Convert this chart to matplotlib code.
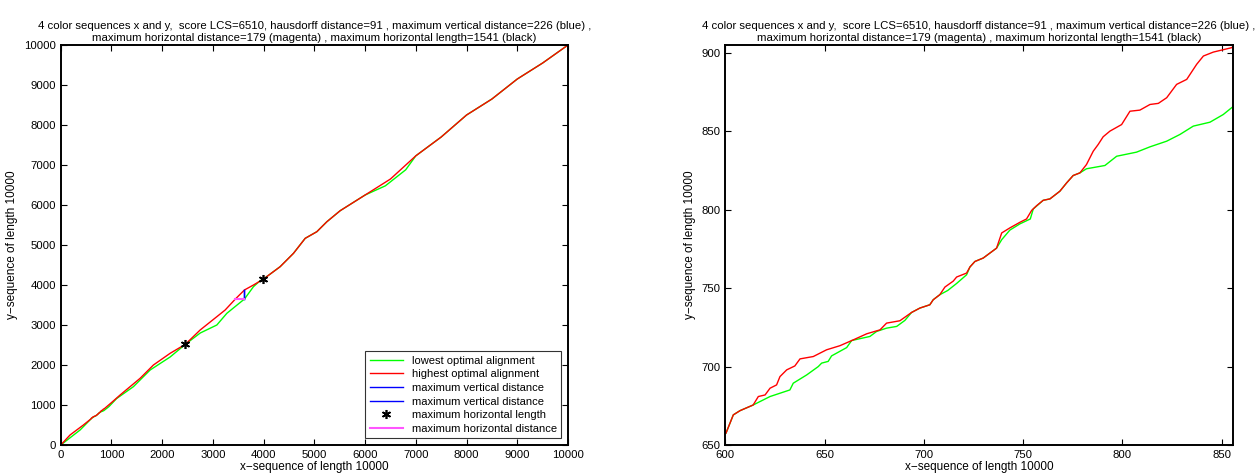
import matplotlib
matplotlib.use("Agg")
import matplotlib.pyplot as plt

plt.rcParams['font.family'] = ['Liberation Sans', 'DejaVu Sans']

# highest optimal alignment (red)
red_x = [0, 183, 446, 600.3, 604, 607.4, 614, 616.6, 620, 622.5, 625.8, 627.5, 630.9, 635, 637.6,
         644.3, 651, 657.7, 664.4, 671.2, 677.9, 681.2, 687.9, 693.8, 698, 703, 704.7, 708, 710.6,
         714.8, 716.5, 721.5, 723.2, 725.7, 729.9, 733.3, 736.6, 739.2, 743.3, 748.4, 751.7, 754.3,
         756.8, 760.1, 763.5, 768.5, 771.9, 775.2, 778.6, 781.9, 785.3, 787.8, 790.3, 793.7, 799.6,
         803.8, 808.8, 813.9, 818.1, 822.3, 827.3, 832.4, 837.4, 840.8, 845.8, 855,
         1000, 1170, 1564, 1827, 2156, 2456, 2748, 3077, 3241, 3443, 3622, 3799, 3997, 4325, 4588,
         4819, 5049, 5247, 5509, 6000, 6500, 7000, 7500, 8000, 8500, 9000, 9500, 10000]
red_y = [0, 250, 500, 657.5, 669.2, 671.9, 675.5, 680.9, 681.9, 686.2, 688.3, 693.6, 697.9, 700.4, 704.9,
         706.4, 710.7, 713.3, 717, 720.9, 723.4, 727.7, 729.2, 734.5, 737.3, 739.4, 742.6, 745.8, 750.7,
         754.5, 757.1, 759.6, 763.5, 767, 769.2, 772.4, 775.5, 785.2, 788.4, 792, 794.1, 799.6,
         802.6, 806, 806.9, 811.8, 817.1, 821.8, 823.5, 828.8, 837.3, 841.6, 846.5, 850.1, 854.3,
         862.8, 863.5, 867.1, 867.8, 871.4, 879.9, 883.1, 892.7, 898, 900.5, 903.3,
         1060, 1250, 1667, 2000, 2292, 2517, 2875, 3208, 3375, 3650, 3876, 4000, 4150, 4458, 4792,
         5167, 5333, 5583, 5858, 6250, 6650, 7230, 7700, 8250, 8650, 9150, 9550, 10000]

# lowest optimal alignment (green)
green_x = [0, 381, 600.3, 604, 607.4, 614, 622.5, 632.5, 634.2, 641, 646.8, 648.5, 651.8, 653.5, 661.1,
           663.6, 672.8, 676.2, 681.2, 686.3, 690.4, 693.8, 698, 703, 704.7, 708, 712, 716.5, 721.5,
           723.2, 725.7, 729.9, 733.3, 736.6, 739.2, 743.3, 748.4, 753.6, 755.1, 760.1, 763.5, 768.5,
           771.9, 775.2, 778.6, 781.9, 791.2, 797.1, 807.1, 813.9, 822.3, 829, 835.7, 844.1, 850.8, 855,
           950, 1100, 1432, 1762, 2156, 2456, 2750, 3077, 3274, 3622, 3799, 3931, 3997, 4325, 4588,
           4819, 5049, 5247, 5509, 6000, 6400, 6800, 7000, 7500, 8000, 8500, 9000, 9500, 10000]
green_y = [0, 375, 657.5, 669.2, 671.9, 675.5, 680.9, 685.1, 689.4, 694.7, 700, 702.2, 703.3, 706.8, 712.1,
           716.6, 719.2, 722.4, 724.5, 725.6, 729.4, 734.5, 737.3, 739.4, 742.6, 745.8, 748.5, 753, 758.5,
           763.5, 767, 769.2, 772.4, 775.5, 780.9, 787, 791, 794.1, 800.5, 806, 806.9, 811.8,
           817.1, 821.8, 823.5, 826.1, 828.2, 834.1, 836.7, 840.1, 843.7, 848, 853.3, 855.8, 860.7, 865,
           960, 1160, 1458, 1875, 2200, 2517, 2800, 3000, 3292, 3650, 3958, 4108, 4150, 4458, 4792,
           5167, 5333, 5583, 5858, 6250, 6480, 6880, 7230, 7700, 8250, 8650, 9150, 9550, 10000]

# maximum vertical distance (blue), maximum horizontal distance (magenta)
vert_x = [3622, 3622]
vert_y = [3650, 3876]
horiz_x = [3443, 3622]
horiz_y = [3650, 3650]
# ends of the maximum horizontal length
star_x = [2456, 3997]
star_y = [2517, 4150]

title = ("4 color sequences x and y,  score LCS=6510, hausdorff distance=91 , maximum vertical distance=226 (blue) ,\n"
         "maximum horizontal distance=179 (magenta) , maximum horizontal length=1541 (black)")

fig = plt.figure(figsize=(12.58, 4.74), dpi=100)
ax1 = fig.add_axes([0.0483, 0.0612, 0.4032, 0.8438])
ax2 = fig.add_axes([0.5766, 0.0612, 0.4032, 0.8438])

for ax in (ax1, ax2):
    ax.plot(green_x, green_y, color=(0, 1, 0), lw=1.0, label="lowest optimal alignment")
    ax.plot(red_x, red_y, color=(1, 0, 0), lw=1.0, label="highest optimal alignment")
    ax.plot(vert_x, vert_y, color=(0, 0, 1), lw=1.0, label="maximum vertical distance")
    ax.plot(vert_x, vert_y, color=(0, 0, 1), lw=1.0, label="maximum vertical distance")
    ax.plot(star_x, star_y, ls="none", marker=(6, 2, 0), color="k", ms=6.5, mew=1.2,
            label="maximum horizontal length")
    ax.plot(horiz_x, horiz_y, color="#ff55ff", lw=1.5, label="maximum horizontal distance")
    ax.set_title(title, fontsize=8.2, pad=3, linespacing=1.25)
    ax.set_xlabel("x\u2212sequence of length 10000", fontsize=8.5, labelpad=1)
    ax.set_ylabel("y\u2212sequence of length 10000", fontsize=8.5, labelpad=4)
    ax.tick_params(direction="in", top=True, right=True, labelsize=8.2, length=4, width=0.8)
    for s in ax.spines.values():
        s.set_linewidth(1.4)

ax1.set_xlim(0, 10000)
ax1.set_ylim(0, 10000)
ax1.set_xticks(range(0, 10001, 1000))
ax1.set_yticks(range(0, 10001, 1000))
leg = ax1.legend(loc="lower right", fontsize=8, frameon=True, fancybox=False,
                 borderaxespad=0.6, handlelength=3.0, labelspacing=0.33, borderpad=0.4)
leg.get_frame().set_edgecolor("k")
leg.get_frame().set_linewidth(0.8)

ax2.set_xlim(600, 855.5)
ax2.set_ylim(650, 905)
ax2.set_xticks(range(600, 851, 50))
ax2.set_yticks(range(650, 901, 50))

fig.savefig("out.png", dpi=100)
